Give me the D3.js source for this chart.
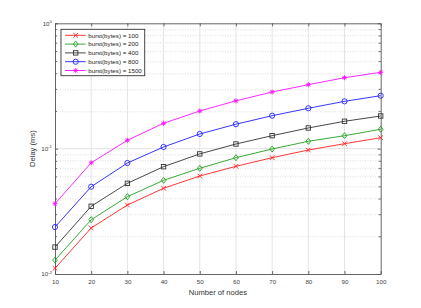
<!DOCTYPE html>
<html>
<head>
<meta charset="utf-8">
<script src="https://cdn.jsdelivr.net/npm/d3@7"></script>
<style>
  body { margin: 0; background: #fff; }
  svg { display: block; font-family: "Liberation Sans", Arial, sans-serif; }
</style>
</head>
<body>
<div id="chart"></div>
<script>
// data
var nodes = [10, 20, 30, 40, 50, 60, 70, 80, 90, 100];
var burst100 = [0.0111, 0.0233, 0.0355, 0.0483, 0.0605, 0.0723, 0.0847, 0.0975, 0.1095, 0.1223];
var burst200 = [0.0129, 0.0271, 0.0414, 0.0559, 0.0697, 0.0847, 0.0994, 0.1144, 0.1269, 0.1427];
var burst400 = [0.0164, 0.0347, 0.0529, 0.0718, 0.0908, 0.1089, 0.1269, 0.1462, 0.1653, 0.1822];
var burst800 = [0.0237, 0.0497, 0.0768, 0.1031, 0.1309, 0.1567, 0.1832, 0.2099, 0.2385, 0.2645];
var burst1500 = [0.0364, 0.0772, 0.1166, 0.1594, 0.1997, 0.2408, 0.2831, 0.3237, 0.3681, 0.4065];
var seriesNames = ['burst(bytes) = 100', 'burst(bytes) = 200', 'burst(bytes) = 400', 'burst(bytes) = 800', 'burst(bytes) = 1500'];
var xTicks = [10, 20, 30, 40, 50, 60, 70, 80, 90, 100];
var yDecades = [-2, -1, 0];

function drawChart() {
    var width = 421, height = 308;
    var margin = ({ top: 23.3, right: 40.3, bottom: 34, left: 55 });
    var plot_w = width - margin.left - margin.right;
    var plot_h = height - margin.top - margin.bottom;

    var series = [
        { name: seriesNames[0], values: burst100, color: '#ff2020', marker: 'x' },
        { name: seriesNames[1], values: burst200, color: '#20a020', marker: 'diamond' },
        { name: seriesNames[2], values: burst400, color: '#333333', marker: 'square' },
        { name: seriesNames[3], values: burst800, color: '#2020ff', marker: 'circle' },
        { name: seriesNames[4], values: burst1500, color: '#ff10ff', marker: 'star' }
    ];

    var svg = d3.select('#chart').append('svg')
        .attr('width', width)
        .attr('height', height);

    var g = svg.append('g')
        .attr('transform', `translate(${margin.left}, ${margin.top})`);

    var x = d3.scaleLinear().domain([10, 100]).range([0, plot_w]);
    var y = d3.scaleLog().domain([0.01, 1]).range([plot_h, 0]);

    // minor values for the log axis
    var minors = [];
    yDecades.slice(0, -1).forEach(function(e) {
        for (var k = 2; k <= 9; k++) minors.push(k * Math.pow(10, e));
    });

    // grid
    g.append('g').selectAll('line').data(minors).enter().append('line')
        .attr('x1', 0).attr('x2', plot_w)
        .attr('y1', function(d) { return Math.round(y(d)) + 0.5; })
        .attr('y2', function(d) { return Math.round(y(d)) + 0.5; })
        .attr('stroke', '#d4d4d4').attr('stroke-width', 0.8)
        .attr('stroke-dasharray', '1,1.5');
    g.append('g').selectAll('line').data(xTicks.slice(1, -1)).enter().append('line')
        .attr('x1', function(d) { return x(d); }).attr('x2', function(d) { return x(d); })
        .attr('y1', 0).attr('y2', plot_h)
        .attr('stroke', '#e4e4e4').attr('stroke-width', 1);
    g.append('line')
        .attr('x1', 0).attr('x2', plot_w)
        .attr('y1', y(0.1)).attr('y2', y(0.1))
        .attr('stroke', '#e4e4e4').attr('stroke-width', 1);

    // axes with inward ticks
    var axisColor = '#555';
    var xBottom = g.append('g').attr('transform', `translate(0, ${plot_h})`)
        .call(d3.axisBottom(x).tickValues(xTicks).tickSizeInner(-3).tickSizeOuter(0).tickPadding(6));
    var xTop = g.append('g')
        .call(d3.axisTop(x).tickValues(xTicks).tickSizeInner(-3).tickSizeOuter(0).tickFormat(''));
    var yLeft = g.append('g')
        .call(d3.axisLeft(y).tickValues(yDecades.map(function(e) { return Math.pow(10, e); }))
            .tickSizeInner(-3).tickSizeOuter(0).tickPadding(7).tickFormat(''));
    var yRight = g.append('g').attr('transform', `translate(${plot_w}, 0)`)
        .call(d3.axisRight(y).tickValues(yDecades.map(function(e) { return Math.pow(10, e); }))
            .tickSizeInner(-3).tickSizeOuter(0).tickFormat(''));
    g.append('g').call(d3.axisLeft(y).tickValues(minors).tickSizeInner(-2).tickSizeOuter(0).tickFormat(''))
        .select('.domain').remove();
    g.append('g').attr('transform', `translate(${plot_w}, 0)`)
        .call(d3.axisRight(y).tickValues(minors).tickSizeInner(-2).tickSizeOuter(0).tickFormat(''))
        .select('.domain').remove();

    g.selectAll('.domain, .tick line').attr('stroke', axisColor).attr('stroke-width', 0.9);
    xBottom.selectAll('text').attr('font-size', 6.2).attr('fill', '#444')
        .attr('font-family', '"Liberation Sans", Arial, sans-serif');

    // y labels 10^e
    var yl = g.append('g').selectAll('text').data(yDecades).enter().append('text')
        .attr('x', -3)
        .attr('y', function(d) { return y(Math.pow(10, d)) + 2.2; })
        .attr('text-anchor', 'end')
        .attr('font-size', 6.2)
        .attr('fill', '#444');
    yl.append('tspan').text('10');
    yl.append('tspan')
        .attr('dy', -2.6)
        .attr('font-size', 4.4)
        .text(function(d) { return d; });

    // axis titles
    svg.append('text')
        .attr('x', margin.left + plot_w / 2).attr('y', 295)
        .attr('text-anchor', 'middle')
        .attr('font-size', 7.6).attr('fill', '#333')
        .text('Number of nodes');
    svg.append('text')
        .attr('transform', `translate(35, ${margin.top + plot_h / 2}) rotate(-90)`)
        .attr('text-anchor', 'middle')
        .attr('font-size', 7.6).attr('fill', '#333')
        .text('Delay (ms)');

    // marker drawing
    function drawMarker(sel, type, color) {
        if (type === 'x') {
            sel.append('path').attr('d', 'M-2.3,-2.3L2.3,2.3M-2.3,2.3L2.3,-2.3');
        } else if (type === 'diamond') {
            sel.append('path').attr('d', 'M0,-3L2.4,0L0,3L-2.4,0Z');
        } else if (type === 'square') {
            sel.append('rect').attr('x', -2.2).attr('y', -2.2).attr('width', 4.4).attr('height', 4.4);
        } else if (type === 'circle') {
            sel.append('circle').attr('r', 2.6);
        } else {
            sel.append('path').attr('d', 'M-2.5,0L2.5,0M0,-2.5L0,2.5M-1.8,-1.8L1.8,1.8M-1.8,1.8L1.8,-1.8');
        }
        sel.selectAll('path, rect, circle')
            .attr('fill', 'none').attr('stroke', color).attr('stroke-width', 0.9);
    }

    var line = d3.line()
        .x(function(d, i) { return x(nodes[i]); })
        .y(function(d) { return y(d); });

    series.forEach(function(s) {
        var sg = g.append('g');
        sg.append('path')
            .attr('d', line(s.values))
            .attr('fill', 'none')
            .attr('stroke', s.color)
            .attr('stroke-width', 0.9);
        sg.selectAll('g.pt').data(s.values).enter().append('g')
            .attr('class', 'pt')
            .attr('transform', function(d, i) { return `translate(${x(nodes[i])}, ${y(d)})`; })
            .each(function() { drawMarker(d3.select(this), s.marker, s.color); });
    });

    // legend
    var lg = svg.append('g').attr('transform', 'translate(61, 29.3)');
    lg.append('rect')
        .attr('width', 83.7).attr('height', 46.4)
        .attr('fill', '#fff').attr('stroke', '#333').attr('stroke-width', 0.9);
    series.forEach(function(s, i) {
        var row = lg.append('g').attr('transform', `translate(0, ${6 + i * 8.8})`);
        row.append('line')
            .attr('x1', 4).attr('x2', 24.7)
            .attr('stroke', s.color).attr('stroke-width', 0.9);
        var m = row.append('g').attr('transform', 'translate(14.7, 0)');
        drawMarker(m, s.marker, s.color);
        row.append('text')
            .attr('x', 27.3).attr('y', 2.2)
            .attr('font-size', 6.2).attr('fill', '#222')
            .text(s.name);
    });
}

drawChart();
</script>
</body>
</html>
